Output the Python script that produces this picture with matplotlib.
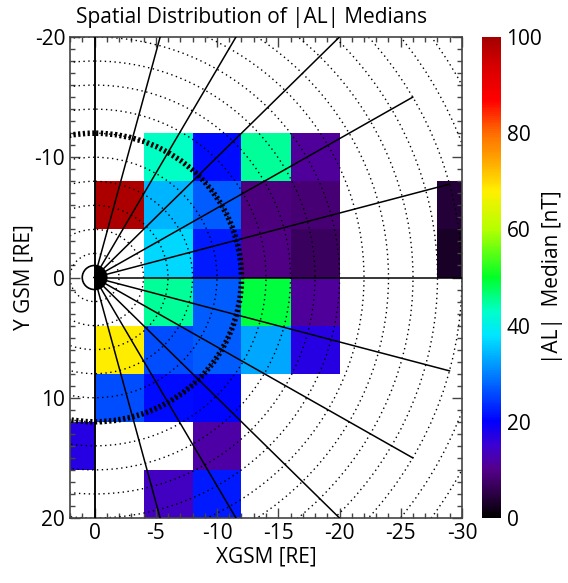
import numpy as np
import matplotlib
matplotlib.use("Agg")
import matplotlib.pyplot as plt
from matplotlib.colors import LinearSegmentedColormap
from matplotlib.patches import Circle, Wedge
from matplotlib.ticker import MultipleLocator

plt.rcParams["font.family"] = ["Open Sans", "DejaVu Sans"]
plt.rcParams["axes.unicode_minus"] = False

# ------------------------------------------------------------------ #
# DATA  (|AL| medians in 4x4 RE bins, NaN = no data)
# ------------------------------------------------------------------ #
x_edges = [4, 0, -4, -8, -12, -16, -20, -24, -28, -32]
y_edges = [-20, -16, -12, -8, -4, 0, 4, 8, 12, 16, 20]

nan = np.nan
#            4..0  0..-4 -4..-8 -8..-12 -12..-16 -16..-20 -20..-24 -24..-28 -28..-32
row_m20 = [nan, nan, nan, nan, nan, nan, nan, nan, nan]
row_m16 = [nan, nan, nan, nan, nan, nan, nan, nan, nan]
row_m12 = [nan, nan, 43, 21, 45, 11, nan, nan, nan]
row_m8 = [nan, 99, 34, 27, 9, 8.5, nan, nan, 4]
row_m4 = [nan, nan, 37, 22, 9.5, 7, nan, nan, 3]
row_p0 = [nan, nan, 45, 27, 49, 11, nan, nan, nan]
row_p4 = [nan, 68, 26, 27, 33, 17, nan, nan, nan]
row_p8 = [nan, 26, 21, 20.5, nan, nan, nan, nan, nan]
row_p12 = [17, nan, nan, 12, nan, nan, nan, nan, nan]
row_p16 = [nan, nan, 14, 22, nan, nan, nan, nan, nan]

medians = np.ma.masked_invalid(
    np.array(
        [row_m20, row_m16, row_m12, row_m8, row_m4,
         row_p0, row_p4, row_p8, row_p12, row_p16]
    )
)

# IDL-like rainbow colour table
cmap_nodes = [
    (0.00, (0, 0, 0)),
    (0.05, (45, 0, 70)),
    (0.10, (85, 0, 140)),
    (0.15, (60, 0, 210)),
    (0.20, (0, 0, 255)),
    (0.30, (0, 130, 255)),
    (0.38, (0, 230, 255)),
    (0.43, (0, 255, 200)),
    (0.50, (0, 255, 40)),
    (0.60, (180, 255, 0)),
    (0.68, (255, 240, 0)),
    (0.75, (255, 160, 0)),
    (0.80, (255, 110, 0)),
    (0.87, (255, 0, 0)),
    (0.94, (215, 0, 0)),
    (1.00, (165, 0, 0)),
]
cmap = LinearSegmentedColormap.from_list(
    "idl_rainbow", [(p, tuple(c / 255 for c in rgb)) for p, rgb in cmap_nodes]
)

# ------------------------------------------------------------------ #
# FIGURE
# ------------------------------------------------------------------ #
fig = plt.figure(figsize=(5.68, 5.83), dpi=100)
ax = fig.add_axes([70 / 568, 65 / 583, 392 / 568, 481 / 583])

mesh = ax.pcolormesh(x_edges, y_edges, medians, cmap=cmap, vmin=0, vmax=100, zorder=1)

# dotted rings every 2 RE, thick ring at 12 RE
for r in range(2, 40, 2):
    ax.add_patch(Circle((0, 0), r, fill=False, ec="black", lw=1.0,
                        ls=(0, (1, 2.5)), zorder=2))
ax.add_patch(Circle((0, 0), 12, fill=False, ec="black", lw=4.0,
                    ls=(0, (0.4, 0.45)), zorder=3))

# Earth (day side white, night side black)
ax.add_patch(Circle((0, 0), 1, fc="white", ec="black", lw=1.2, zorder=3))
ax.add_patch(Wedge((0, 0), 1, 90, 270, fc="black", ec="black", lw=0, zorder=3))

# radial lines every 15 deg on the night side
for ang in np.arange(-90, 91, 15):
    a = np.deg2rad(ang)
    ax.plot([0, -30 * np.cos(a)], [0, 30 * np.sin(a)], color="black", lw=1.1, zorder=4)
ax.plot([0, 0], [-20, 20], color="black", lw=1.1, zorder=4)

ax.set_xlim(2, -30)
ax.set_ylim(20, -20)
ax.set_xticks([0, -5, -10, -15, -20, -25, -30])
ax.set_yticks([-20, -10, 0, 10, 20])
ax.xaxis.set_minor_locator(MultipleLocator(1))
ax.yaxis.set_minor_locator(MultipleLocator(1))
ax.tick_params(which="both", direction="in", top=True, right=True,
               color="#444444", labelsize=15)
ax.tick_params(which="major", length=7, width=1)
ax.tick_params(which="minor", length=3.5, width=1)
for s in ax.spines.values():
    s.set_color("#444444")
    s.set_linewidth(1.2)

ax.set_xlabel("XGSM [RE]", fontsize=15, labelpad=2)
ax.set_ylabel("Y GSM [RE]", fontsize=15, labelpad=0)
fig.text(252 / 568, 0.970, "Spatial Distribution of |AL| Medians",
         ha="center", va="center", fontsize=15)

# colour bar
cax = fig.add_axes([482 / 568, 65 / 583, 19 / 568, 481 / 583])
cb = fig.colorbar(mesh, cax=cax, ticks=[0, 20, 40, 60, 80, 100])
cb.outline.set_visible(False)
cb.ax.tick_params(length=0, labelsize=15, pad=4)
cb.set_label("|AL|  Median [nT]", fontsize=15, labelpad=0)

fig.savefig("out.png", dpi=100)
